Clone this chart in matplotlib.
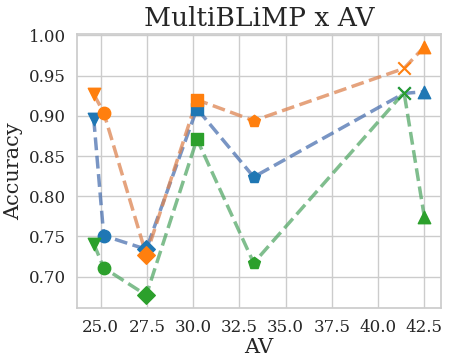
import numpy as np
import matplotlib
matplotlib.use("Agg")
import matplotlib.pyplot as plt
import seaborn as sns

sns.set_theme(style="whitegrid")
plt.rcParams['font.family'] = ['DejaVu Serif']

# AV por punto y marcador de cada punto
av = [24.62, 25.16, 27.46, 30.2, 33.27, 41.4, 42.5]
markers = ['v', 'o', 'D', 's', 'p', 'x', '^']

# Precisión de cada serie
acc_blue = [0.896, 0.751, 0.734, 0.909, 0.824, 0.928, 0.930]
acc_orange = [0.927, 0.904, 0.727, 0.920, 0.894, 0.959, 0.986]
acc_green = [0.741, 0.711, 0.677, 0.871, 0.717, 0.929, 0.774]

series = [acc_blue, acc_orange, acc_green]
line_colors = sns.color_palette("deep")[:3]
marker_colors = ['#1f77b4', '#ff7f0e', '#2ca02c']

fig, ax = plt.subplots(figsize=(4.49, 3.61), dpi=100)

for acc, lc, mc in zip(series, line_colors, marker_colors):
    ax.plot(av, acc, linestyle='--', color=lc, linewidth=2.5, alpha=0.75, zorder=2)
    for x, y, m in zip(av, acc, markers):
        ax.scatter(x, y, marker=m, color=mc, s=80, zorder=3)

ax.set_xticks([25.0, 27.5, 30.0, 32.5, 35.0, 37.5, 40.0, 42.5])
ax.set_xticklabels(['25.0', '27.5', '30.0', '32.5', '35.0', '37.5', '40.0', '42.5'])
ax.set_yticks([0.70, 0.75, 0.80, 0.85, 0.90, 0.95, 1.00])
ax.set_yticklabels(['0.70', '0.75', '0.80', '0.85', '0.90', '0.95', '1.00'])
ax.tick_params(labelsize=12, pad=2)

ax.set_xlabel('AV', fontsize=15, labelpad=2)
ax.set_ylabel('Accuracy', fontsize=15)
ax.set_title('MultiBLiMP x AV', fontsize=19)
for s in ax.spines.values():
    s.set_color('#cccccc')

plt.subplots_adjust(left=0.172, right=0.982, top=0.905, bottom=0.148)
plt.savefig('out.png')
